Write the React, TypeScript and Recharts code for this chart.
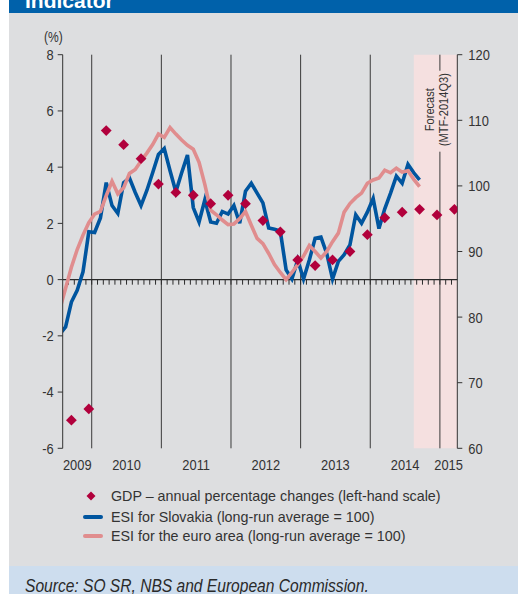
import React from "react";
import {
  ComposedChart,
  Line,
  Scatter,
  XAxis,
  YAxis,
  ReferenceLine,
  ReferenceArea,
} from "recharts";

// Economic sentiment indicator, monthly, first value = Jul 2009 (clipped at the axis)
const ESI_FIRST_YEAR = 2009;
const ESI_FIRST_MONTH = 7;
const ESI_SLOVAKIA = [
  77.4, 78.5, 82.3, 84.1, 86.9, 93.0,
  92.9, 95.1, 100.5, 97.0, 95.8, 100.5, 101.2, 99.0, 97.0, 99.3, 102.0, 104.8,
  105.7, 102.3, 99.1, 102.0, 104.7, 96.7, 94.5, 97.9, 94.5, 94.3, 96.1, 95.7,
  97.0, 94.3, 99.2, 100.4, 98.9, 97.4, 93.6, 93.4, 93.1, 87.2, 85.8, 88.7,
  85.8, 88.7, 92.0, 92.2, 89.7, 85.8, 88.5, 89.5, 91.0, 95.6, 94.3, 96.0,
  98.1, 93.5, 96.5, 98.9, 101.5, 100.4, 103.3, 102.0, 100.9,
];
const ESI_EURO_AREA = [
  81.2, 84.4, 87.6, 90.3, 92.5, 94.4,
  95.7, 96.1, 98.5, 100.7, 98.8, 99.7, 101.9, 102.5, 103.8, 105.0, 106.3, 107.9,
  107.4, 108.9, 107.9, 107.0, 106.2, 105.6, 103.6, 100.2, 96.3, 95.6, 94.8, 94.1,
  94.2, 95.0, 96.1, 94.0, 92.0, 91.2, 89.7, 88.0, 86.8, 85.7, 86.8, 88.0,
  89.3, 90.9, 90.0, 89.0, 90.0, 91.5, 92.8, 96.0, 97.3, 98.2, 98.9, 100.4,
  100.9, 101.2, 102.4, 102.0, 102.7, 102.1, 102.3, 101.0, 99.9,
];

// GDP, annual % change, plotted in the last month of each quarter
const GDP_QUARTERS = [
  "2009Q3", "2009Q4",
  "2010Q1", "2010Q2", "2010Q3", "2010Q4",
  "2011Q1", "2011Q2", "2011Q3", "2011Q4",
  "2012Q1", "2012Q2", "2012Q3", "2012Q4",
  "2013Q1", "2013Q2", "2013Q3", "2013Q4",
  "2014Q1", "2014Q2", "2014Q3", "2014Q4",
  "2015Q1",
];
const GDP_GROWTH = [
  -5.0, -4.6,
  5.3, 4.8, 4.3, 3.4,
  3.1, 3.0, 2.7, 3.0,
  2.7, 2.1, 1.7, 0.7,
  0.5, 0.7, 1.0, 1.6,
  2.2, 2.4, 2.5, 2.3,
  2.5,
];

const YEAR_LABELS = [2009, 2010, 2011, 2012, 2013, 2014, 2015];
const LEFT_TICKS = [-6, -4, -2, 0, 2, 4, 6, 8];
const RIGHT_TICKS = [60, 70, 80, 90, 100, 110, 120];

const X_MIN = 2009 + 7 / 12; // start of Aug 2009
const X_MAX = 2015 + 3 / 12; // end of Mar 2015
const FORECAST_FROM = 2014 + 7.5 / 12;

const BLUE = "#00559F";
const PINK = "#E08D8E";
const GDP_RED = "#B1003C";
const INK = "#333333";
const PANEL = "#DDDEE0";

const SANS = '"Liberation Sans", Arial, sans-serif';
// no narrow face installed, so the condensed look is faked with a horizontal squeeze
const SQUEEZE = 0.86;

const monthCentre = (year: number, month: number) => year + (month - 0.5) / 12;

const esiData = ESI_SLOVAKIA.map((sk, i) => {
  const m = ESI_FIRST_MONTH - 1 + i;
  return {
    t: monthCentre(ESI_FIRST_YEAR + Math.floor(m / 12), (m % 12) + 1),
    sk,
    ea: ESI_EURO_AREA[i],
  };
});

const gdpData = GDP_QUARTERS.map((q, i) => {
  const [y, qq] = q.split("Q");
  return { t: monthCentre(Number(y), Number(qq) * 3), gdp: GDP_GROWTH[i] };
});

// label sits in the middle of the visible part of each year
const yearLabelPos = YEAR_LABELS.map(
  (y) => (Math.max(y, X_MIN) + Math.min(y + 1, X_MAX)) / 2
);

const monthTicks: number[] = [];
for (let k = 1; k < Math.round((X_MAX - X_MIN) * 12); k++) monthTicks.push(X_MIN + k / 12);

const Diamond = (props: any) => {
  const { cx, cy } = props;
  if (cx == null || cy == null) return null;
  const r = 5.4;
  return <path d={`M${cx},${cy - r}L${cx + r},${cy}L${cx},${cy + r}L${cx - r},${cy}Z`} fill={GDP_RED} />;
};

const NarrowTick = (props: any) => {
  const { x, y, payload, textAnchor, dy, format } = props;
  const label = format ? format(payload.value) : String(payload.value);
  return (
    <text
      transform={`translate(${x},${y}) scale(${SQUEEZE},1)`}
      textAnchor={textAnchor}
      dy={dy}
      fill={INK}
      fontSize={15}
      fontFamily={SANS}
    >
      {label}
    </text>
  );
};

const ForecastLabel = (props: any) => {
  const vb = props.viewBox ?? {};
  const x = vb.x ?? 0;
  const cy = (vb.y ?? 0) + 55;
  return (
    <g fill={INK} fontSize={13.5} fontFamily={SANS}>
      <text transform={`translate(${x + 16},${cy}) rotate(-90) scale(0.82,1)`} textAnchor="middle" dominantBaseline="central">
        Forecast
      </text>
      <text transform={`translate(${x + 30},${cy}) rotate(-90) scale(0.82,1)`} textAnchor="middle" dominantBaseline="central">
        (MTF-2014Q3)
      </text>
    </g>
  );
};

function LegendRow({ top, marker, text }: { top: number; marker: React.ReactNode; text: string }) {
  return (
    <div style={{ position: "absolute", left: 80, top: top - 10, height: 20, display: "flex", alignItems: "center" }}>
      <div style={{ width: 31, display: "flex", alignItems: "center" }}>{marker}</div>
      <span style={{ fontFamily: SANS, fontSize: 14.3, color: INK, whiteSpace: "nowrap" }}>{text}</span>
    </div>
  );
}

export default function App() {
  return (
    <div style={{ position: "absolute", left: 0, top: 0, width: 518, height: 594, background: "#fff", overflow: "hidden" }}>
      <div style={{ position: "absolute", left: 9, top: 0, width: 509, height: 13, background: "#0061AA", overflow: "hidden" }}>
        <div style={{ position: "absolute", left: 16, top: -10, fontFamily: SANS, fontWeight: 700, fontSize: 21, lineHeight: "21px", color: "#fff" }}>
          Indicator
        </div>
      </div>
      <div style={{ position: "absolute", left: 9, top: 13, width: 509, height: 553, background: PANEL }} />

      <div style={{ position: "absolute", left: 0, top: 0 }}>
        <ComposedChart width={518} height={480} margin={{ top: 54.7, right: 0, bottom: 0, left: 0 }}>
          <XAxis
            type="number"
            dataKey="t"
            domain={[X_MIN, X_MAX]}
            allowDataOverflow
            ticks={yearLabelPos}
            interval={0}
            axisLine={false}
            tickLine={false}
            tickSize={0}
            tickMargin={11}
            tick={<NarrowTick dy="0.71em" format={(v: number) => String(Math.floor(v))} />}
            height={31.7}
          />
          <YAxis
            yAxisId="left"
            domain={[-6, 8]}
            ticks={LEFT_TICKS}
            interval={0}
            width={62.7}
            axisLine={{ stroke: INK }}
            tickLine={{ stroke: INK }}
            tickSize={5}
            tickMargin={4}
            tick={<NarrowTick dy="0.36em" />}
          />
          <YAxis
            yAxisId="right"
            orientation="right"
            domain={[60, 120]}
            ticks={RIGHT_TICKS}
            interval={0}
            width={60.7}
            axisLine={{ stroke: INK }}
            tickLine={{ stroke: INK }}
            tickSize={5}
            tickMargin={6}
            tick={<NarrowTick dy="0.36em" />}
          />

          <ReferenceArea
            yAxisId="left"
            x1={FORECAST_FROM}
            x2={X_MAX}
            y1={-6}
            y2={8}
            fill="#F5E0E0"
            fillOpacity={1}
            stroke="none"
            label={ForecastLabel}
          />
          {YEAR_LABELS.slice(1, -1).map((y) => (
            <ReferenceLine key={y} yAxisId="left" x={y} stroke="#3a3a3a" strokeWidth={1} />
          ))}
          {/* 2015 separator is interrupted by the forecast caption */}
          <ReferenceLine yAxisId="left" segment={[{ x: 2015, y: 8 }, { x: 2015, y: 7.43 }]} stroke="#3a3a3a" strokeWidth={1} />
          <ReferenceLine yAxisId="left" segment={[{ x: 2015, y: 4.55 }, { x: 2015, y: -6 }]} stroke="#3a3a3a" strokeWidth={1} />
          <ReferenceLine yAxisId="left" y={0} stroke="#2a2a2a" strokeWidth={1.3} />
          {monthTicks.map((t, k) => (
            <ReferenceLine key={`m${k}`} yAxisId="left" segment={[{ x: t, y: 0 }, { x: t, y: -0.18 }]} stroke="#2a2a2a" strokeWidth={1} />
          ))}

          <Scatter yAxisId="left" data={gdpData} dataKey="gdp" shape={Diamond} isAnimationActive={false} />
          <Line
            yAxisId="right"
            data={esiData}
            dataKey="sk"
            type="linear"
            stroke={BLUE}
            strokeWidth={3.6}
            dot={false}
            activeDot={false}
            isAnimationActive={false}
          />
          <Line
            yAxisId="right"
            data={esiData}
            dataKey="ea"
            type="linear"
            stroke={PINK}
            strokeWidth={3.6}
            dot={false}
            activeDot={false}
            isAnimationActive={false}
          />
        </ComposedChart>
      </div>

      <div
        style={{
          position: "absolute",
          left: 44,
          top: 29,
          fontFamily: SANS,
          fontSize: 14,
          lineHeight: "17px",
          color: INK,
          transform: `scaleX(${SQUEEZE})`,
          transformOrigin: "left center",
        }}
      >
        (%)
      </div>

      <LegendRow
        top={496}
        text="GDP – annual percentage changes (left-hand scale)"
        marker={
          <svg width={22} height={12} style={{ display: "block" }}>
            <path d="M11,1.5L15.5,6L11,10.5L6.5,6Z" fill={GDP_RED} />
          </svg>
        }
      />
      <LegendRow
        top={516.7}
        text="ESI for Slovakia (long-run average = 100)"
        marker={<div style={{ marginLeft: 2.7, width: 20.6, height: 4, borderRadius: 2, background: BLUE }} />}
      />
      <LegendRow
        top={536}
        text="ESI for the euro area (long-run average = 100)"
        marker={<div style={{ marginLeft: 2.7, width: 20.6, height: 4, borderRadius: 2, background: PINK }} />}
      />

      <div style={{ position: "absolute", left: 9, top: 566, width: 509, height: 28, background: "#CDDDEE", overflow: "hidden" }}>
        <div
          style={{
            position: "absolute",
            left: 16,
            top: 9.6,
            fontFamily: SANS,
            fontStyle: "italic",
            fontSize: 19,
            lineHeight: "19px",
            color: "#2a2a2a",
            whiteSpace: "nowrap",
            transform: "scaleX(0.82)",
            transformOrigin: "left center",
          }}
        >
          Source: SO SR, NBS and European Commission.
        </div>
      </div>
    </div>
  );
}
